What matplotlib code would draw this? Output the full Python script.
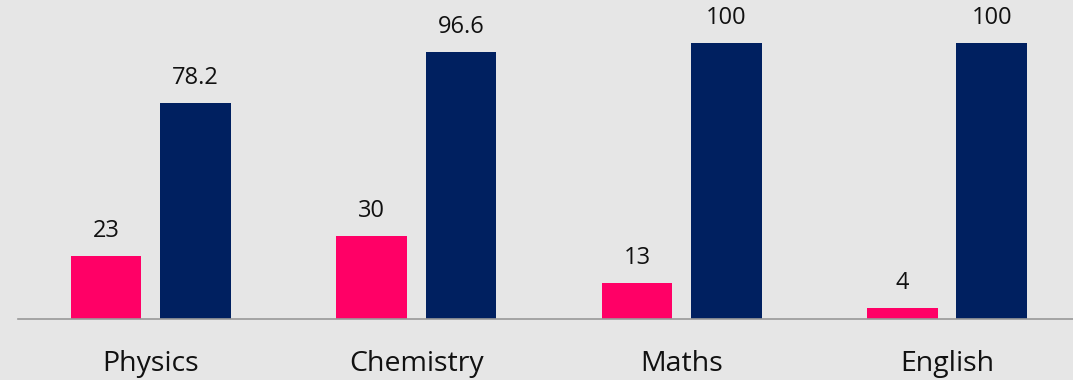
import matplotlib.pyplot as plt
import numpy as np

plt.rcParams['font.family'] = ['Open Sans', 'DejaVu Sans']

# data
subjects = ['Physics', 'Chemistry', 'Maths', 'English']
pink_vals = [23, 30, 13, 4]
navy_vals = [78.2, 96.6, 100, 100]

pink = '#FF0066'
navy = '#002060'
bg = '#E6E6E6'
txt = '#111111'

fig = plt.figure(figsize=(10.73, 3.8), dpi=100, facecolor=bg)
ax = fig.add_axes([18 / 1073, 1 - 319 / 380, 1 - 18 / 1073, 319 / 380])
ax.set_facecolor(bg)

x = np.arange(len(subjects))
w = 0.266
off = 0.168
b1 = ax.bar(x - off, pink_vals, w, color=pink)
b2 = ax.bar(x + off, navy_vals, w, color=navy)

# value labels, baseline ~19px above the bar
for bars, vals in ((b1, pink_vals), (b2, navy_vals)):
    for r, v in zip(bars, vals):
        ax.annotate(f'{v:g}', (r.get_x() + r.get_width() / 2, v),
                    xytext=(0, 13.7), textcoords='offset points',
                    ha='center', va='baseline', fontsize=17, color=txt)

# category labels under the axis line
for xi, s in zip(x, subjects):
    ax.annotate(s, (xi, 0), xycoords=('data', 'axes fraction'),
                xytext=(0, -37.4), textcoords='offset points',
                ha='center', va='baseline', fontsize=20.5, color=txt,
                annotation_clip=False)

ax.set_xlim(-0.5, 3.474)
ax.set_ylim(0, 115.6)
ax.set_yticks([])
ax.set_xticks([])
for s in ['top', 'right', 'left']:
    ax.spines[s].set_visible(False)
ax.spines['bottom'].set_color('#999999')
ax.spines['bottom'].set_linewidth(1.2)

plt.savefig('out.png', dpi=100, facecolor=bg)
plt.close()
